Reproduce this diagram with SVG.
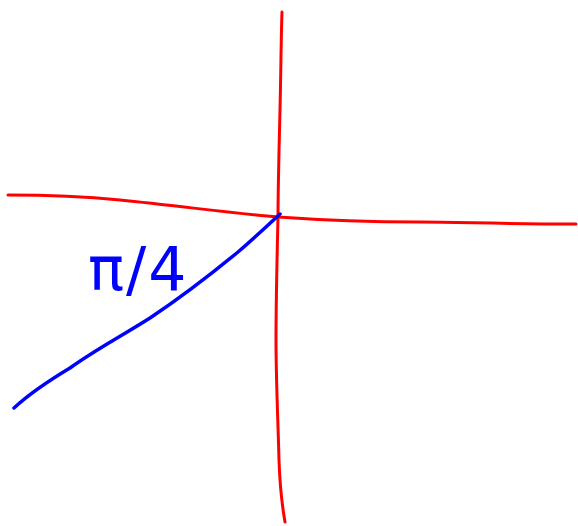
<svg xmlns="http://www.w3.org/2000/svg" width="578" height="526" viewBox="0 0 578 526">
<style>
.axis{fill:none;stroke:#ff0000;stroke-width:3;stroke-linecap:round;stroke-linejoin:round}
.ray{fill:none;stroke:#0000ff;stroke-width:3.5;stroke-linecap:round;stroke-linejoin:round}
.lbl{fill:#0000ff;font-family:"DejaVu Sans",sans-serif;font-size:60px}
</style>
<rect width="578" height="526" fill="#ffffff"/>
<g id="connectors">
<path class="axis" d="M282,12 C281,40 281,70 280,110 C279,150 278,190 278,217 C277,260 276,300 276,340 C276,380 278,420 279,460 C280,490 282,505 285,522"/>
<path class="axis" d="M8,195 C40,195 80,196 120,200 C180,206 230,213 278,217 C320,220 360,222 420,222 C460,222 500,224 576,224"/>
<path class="ray" d="M280,214 C265,228 252,240 238,252 C210,275 180,298 150,318 C120,337 95,350 70,368 C45,383 28,395 14,408"/>
</g>
<g id="label">
<text class="lbl" x="88" y="290" letter-spacing="2">π/4</text>
</g>
</svg>
